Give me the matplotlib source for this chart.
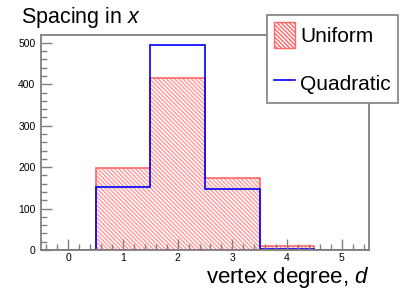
import numpy as np
import matplotlib
matplotlib.use("Agg")
import matplotlib.pyplot as plt
from matplotlib.patches import Patch
from matplotlib.lines import Line2D
from matplotlib.ticker import MultipleLocator

### histogram data, one bin per vertex degree
degree_edges = [-0.5, 0.5, 1.5, 2.5, 3.5, 4.5, 5.5]
uniform_counts = [0, 198, 415, 175, 10, 0]
quadratic_counts = [0, 153, 494, 148, 2, 0]
series_labels = ["Uniform", "Quadratic"]

plt.rcParams['font.family'] = ['Liberation Sans', 'DejaVu Sans']
plt.rcParams['mathtext.fontset'] = 'custom'
plt.rcParams['mathtext.rm'] = 'Liberation Sans'
plt.rcParams['mathtext.it'] = 'Liberation Sans:italic'
plt.rcParams['hatch.linewidth'] = 1.0

red = '#ff6666'
hatch_red = '#ff9a9a'
blue = '#0000ff'
axis_grey = '#808080'

W, H = 411, 295
fig = plt.figure(figsize=(W / 100, H / 100), dpi=100)
ax = fig.add_axes([41 / W, 1 - 250 / H, (369 - 41) / W, (250 - 35) / H])

hatch = '\\' * 8
ax.stairs(uniform_counts, degree_edges, fill=True, facecolor='none',
          edgecolor=hatch_red, hatch=hatch, linewidth=0)
ax.stairs(uniform_counts, degree_edges, color=red, linewidth=1.2)
ax.stairs(quadratic_counts, degree_edges, color=blue, linewidth=1.2)
ax.plot([-0.5, 5.5], [0, 0], color='#cc0044', linewidth=1.2)

ax.set_xlim(-0.5, 5.5)
ax.set_ylim(0, 519)
ax.xaxis.set_major_locator(MultipleLocator(1))
ax.xaxis.set_minor_locator(MultipleLocator(0.2))
ax.yaxis.set_major_locator(MultipleLocator(100))
ax.yaxis.set_minor_locator(MultipleLocator(20))
ax.tick_params(which='both', direction='in', color=axis_grey, width=1,
               labelsize=7.5, top=False, right=False)
ax.tick_params(which='major', length=8, pad=4)
ax.tick_params(axis='x', which='major', pad=2.5)
ax.tick_params(which='minor', length=4)
for s in ax.spines.values():
    s.set_color(axis_grey)
    s.set_linewidth(1.3)

fig.text(21 / W, 1 - 23 / H, r"Spacing in $x$", fontsize=15.5, va='baseline', ha='left')
fig.text(369 / W, 1 - 283 / H, r"vertex degree, $d$", fontsize=16, va='baseline', ha='right')

handles = [Patch(facecolor='none', edgecolor=red, hatch=hatch, linewidth=1),
           Line2D([], [], color=blue, linewidth=1.2)]
leg = fig.legend(handles, series_labels, loc='upper left',
                 bbox_to_anchor=(267 / W, 1 - 15 / H), fontsize=15,
                 handlelength=1.0, handleheight=1.5, handletextpad=0.25,
                 labelspacing=1.1, borderpad=0.35, borderaxespad=0,
                 fancybox=False, framealpha=1, edgecolor=axis_grey)
leg.get_frame().set_linewidth(1.2)

fig.savefig("out.png", dpi=100)
